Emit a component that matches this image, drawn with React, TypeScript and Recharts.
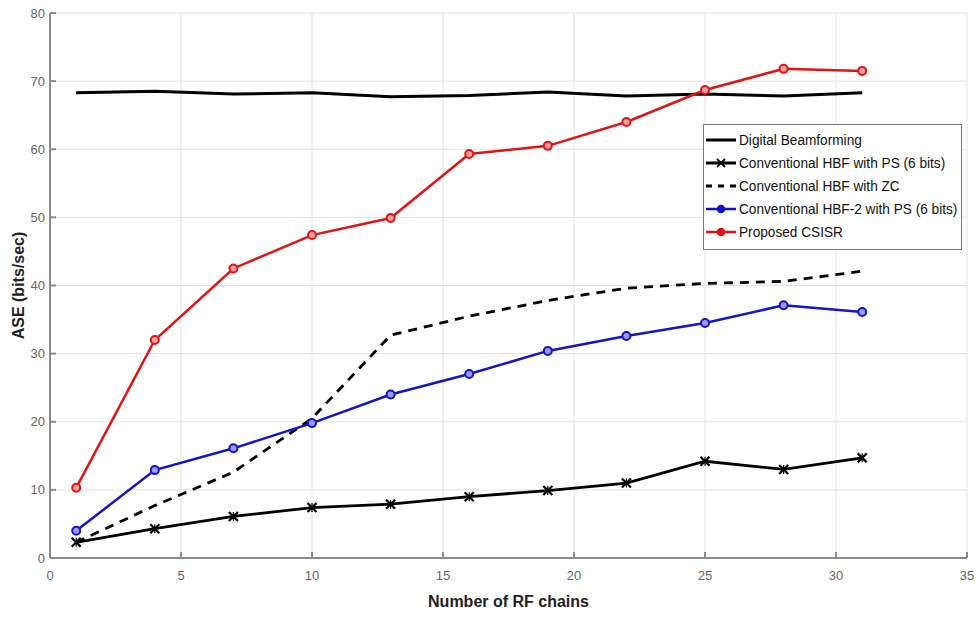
import React from 'react';
import { LineChart, Line, XAxis, YAxis, CartesianGrid } from 'recharts';

const rfChains = [1, 4, 7, 10, 13, 16, 19, 22, 25, 28, 31];
const digitalBF = [68.3, 68.5, 68.1, 68.3, 67.7, 67.9, 68.4, 67.8, 68.1, 67.8, 68.3];
const convHbfPs = [2.3, 4.3, 6.1, 7.4, 7.9, 9.0, 9.9, 11.0, 14.2, 13.0, 14.7];
const convHbfZc = [2.3, 7.7, 12.6, 20.5, 32.7, 35.5, 37.8, 39.6, 40.3, 40.6, 42.1];
const convHbf2Ps = [4.0, 12.9, 16.1, 19.8, 24.0, 27.0, 30.4, 32.6, 34.5, 37.1, 36.1];
const proposed = [10.3, 32.0, 42.5, 47.4, 49.9, 59.3, 60.5, 64.0, 68.7, 71.8, 71.5];

const xTicks = [0, 5, 10, 15, 20, 25, 30, 35];
const yTicks = [0, 10, 20, 30, 40, 50, 60, 70, 80];

const seriesNames = [
  'Digital Beamforming',
  'Conventional HBF with PS (6 bits)',
  'Conventional HBF with ZC',
  'Conventional HBF-2 with PS (6 bits)',
  'Proposed CSISR',
];

const data = rfChains.map((x, i) => ({
  x,
  digital: digitalBF[i],
  ps: convHbfPs[i],
  zc: convHbfZc[i],
  hbf2: convHbf2Ps[i],
  prop: proposed[i],
}));

const FONT = '"Liberation Sans Narrow", "Liberation Sans", Arial, sans-serif';
const AXIS = '#8a8a8a';

const XMark = (props: any) => {
  const { cx, cy } = props;
  if (cx == null || cy == null) return <g />;
  const s = 4.5;
  return (
    <g stroke="#000" strokeWidth={2.2}>
      <line x1={cx - s} y1={cy - s} x2={cx + s} y2={cy + s} />
      <line x1={cx - s} y1={cy + s} x2={cx + s} y2={cy - s} />
      <line x1={cx} y1={cy - s} x2={cx} y2={cy + s} strokeWidth={1.2} />
    </g>
  );
};

const YLabel = (props: any) => {
  const vb = props.viewBox || {};
  const cy = (vb.y ?? 13) + (vb.height ?? 545) / 2;
  return (
    <text
      x={24}
      y={cy}
      transform={`rotate(-90, 24, ${cy})`}
      textAnchor="middle"
      style={{ fontWeight: 'bold', fontSize: 16, fill: '#222', fontFamily: FONT }}
    >
      ASE (bits/sec)
    </text>
  );
};

const LegendBox = () => {
  const rows = [
    { color: '#000', dash: undefined, marker: 'none', w: 3 },
    { color: '#000', dash: undefined, marker: 'x', w: 3 },
    { color: '#000', dash: '6 6', marker: 'none', w: 3 },
    { color: '#1010d0', dash: undefined, marker: 'o', w: 2.5 },
    { color: '#e01010', dash: undefined, marker: 'o', w: 2.5 },
  ];
  return (
    <div
      style={{
        position: 'absolute',
        left: 703,
        top: 124,
        border: '1.5px solid #777',
        background: '#fff',
        width: 259,
        height: 126,
        boxSizing: 'border-box',
        padding: '3px 0 0 1px',
        fontFamily: FONT,
        fontSize: 15.5,
        color: '#111',
        overflow: 'hidden',
      }}
    >
      {rows.map((r, i) => (
        <div key={i} style={{ display: 'flex', alignItems: 'center', height: 23 }}>
          <svg width={32} height={14} style={{ flex: 'none' }}>
            <line x1={1} y1={7} x2={31} y2={7} stroke={r.color} strokeWidth={r.w} strokeDasharray={r.dash} />
            {r.marker === 'o' && <circle cx={16} cy={7} r={3.5} fill={r.color} stroke={r.color} strokeWidth={1.5} />}
            {r.marker === 'x' && (
              <g stroke="#000" strokeWidth={1.8}>
                <line x1={12} y1={3} x2={20} y2={11} />
                <line x1={12} y1={11} x2={20} y2={3} />
              </g>
            )}
          </svg>
          <span
            style={{
              marginLeft: 2,
              whiteSpace: 'nowrap',
              display: 'inline-block',
              transform: 'scaleX(0.88)',
              transformOrigin: 'left center',
            }}
          >
            {seriesNames[i]}
          </span>
        </div>
      ))}
    </div>
  );
};

export default function App() {
  return (
    <div style={{ position: 'absolute', left: 0, top: 0, width: 976, height: 617, background: '#fff' }}>
      <LineChart
        width={976}
        height={617}
        data={data}
        margin={{ top: 13, right: 9, left: 10, bottom: 29 }}
        style={{ fontFamily: FONT }}
      >
        <CartesianGrid stroke="#e3e3e3" strokeWidth={1} />
        <XAxis
          dataKey="x"
          type="number"
          domain={[0, 35]}
          ticks={xTicks}
          interval={0}
          height={30}
          stroke={AXIS}
          strokeWidth={2}
          tickSize={-6}
          tickMargin={19}
          tick={{ fill: '#666', fontSize: 13, fontFamily: FONT }}
          label={{ value: 'Number of RF chains', position: 'insideBottom', offset: -19, style: { fontWeight: 'bold', fontSize: 16, fill: '#222', fontFamily: FONT } }}
        />
        <XAxis
          xAxisId="top"
          dataKey="x"
          type="number"
          orientation="top"
          domain={[0, 35]}
          ticks={xTicks}
          height={0}
          stroke={AXIS}
          strokeWidth={2}
          tickSize={-6}
          tickFormatter={() => ''}
        />
        <YAxis
          type="number"
          domain={[0, 80]}
          ticks={yTicks}
          interval={0}
          width={40}
          stroke={AXIS}
          strokeWidth={2}
          tickSize={-6}
          tickMargin={11}
          tick={{ fill: '#666', fontSize: 13, fontFamily: FONT }}
          label={<YLabel />}
        />
        <YAxis
          yAxisId="right"
          type="number"
          orientation="right"
          domain={[0, 80]}
          ticks={yTicks}
          width={0}
          stroke={AXIS}
          strokeWidth={2}
          tickSize={-6}
          tickFormatter={() => ''}
        />
        <Line dataKey="digital" name={seriesNames[0]} stroke="#000" strokeWidth={3} dot={false} isAnimationActive={false} />
        <Line dataKey="ps" name={seriesNames[1]} stroke="#000" strokeWidth={2.8} dot={<XMark />} isAnimationActive={false} />
        <Line dataKey="zc" name={seriesNames[2]} stroke="#000" strokeWidth={2.8} strokeDasharray="9 7" dot={false} isAnimationActive={false} />
        <Line dataKey="hbf2" name={seriesNames[3]} stroke="#1414c8" strokeWidth={2.5} dot={{ r: 4, fill: '#9a9af0', stroke: '#1414c8', strokeWidth: 2 }} isAnimationActive={false} />
        <Line dataKey="prop" name={seriesNames[4]} stroke="#e01414" strokeWidth={2.5} dot={{ r: 4, fill: '#f4a0a0', stroke: '#e01414', strokeWidth: 2 }} isAnimationActive={false} />
      </LineChart>
      <LegendBox />
    </div>
  );
}
